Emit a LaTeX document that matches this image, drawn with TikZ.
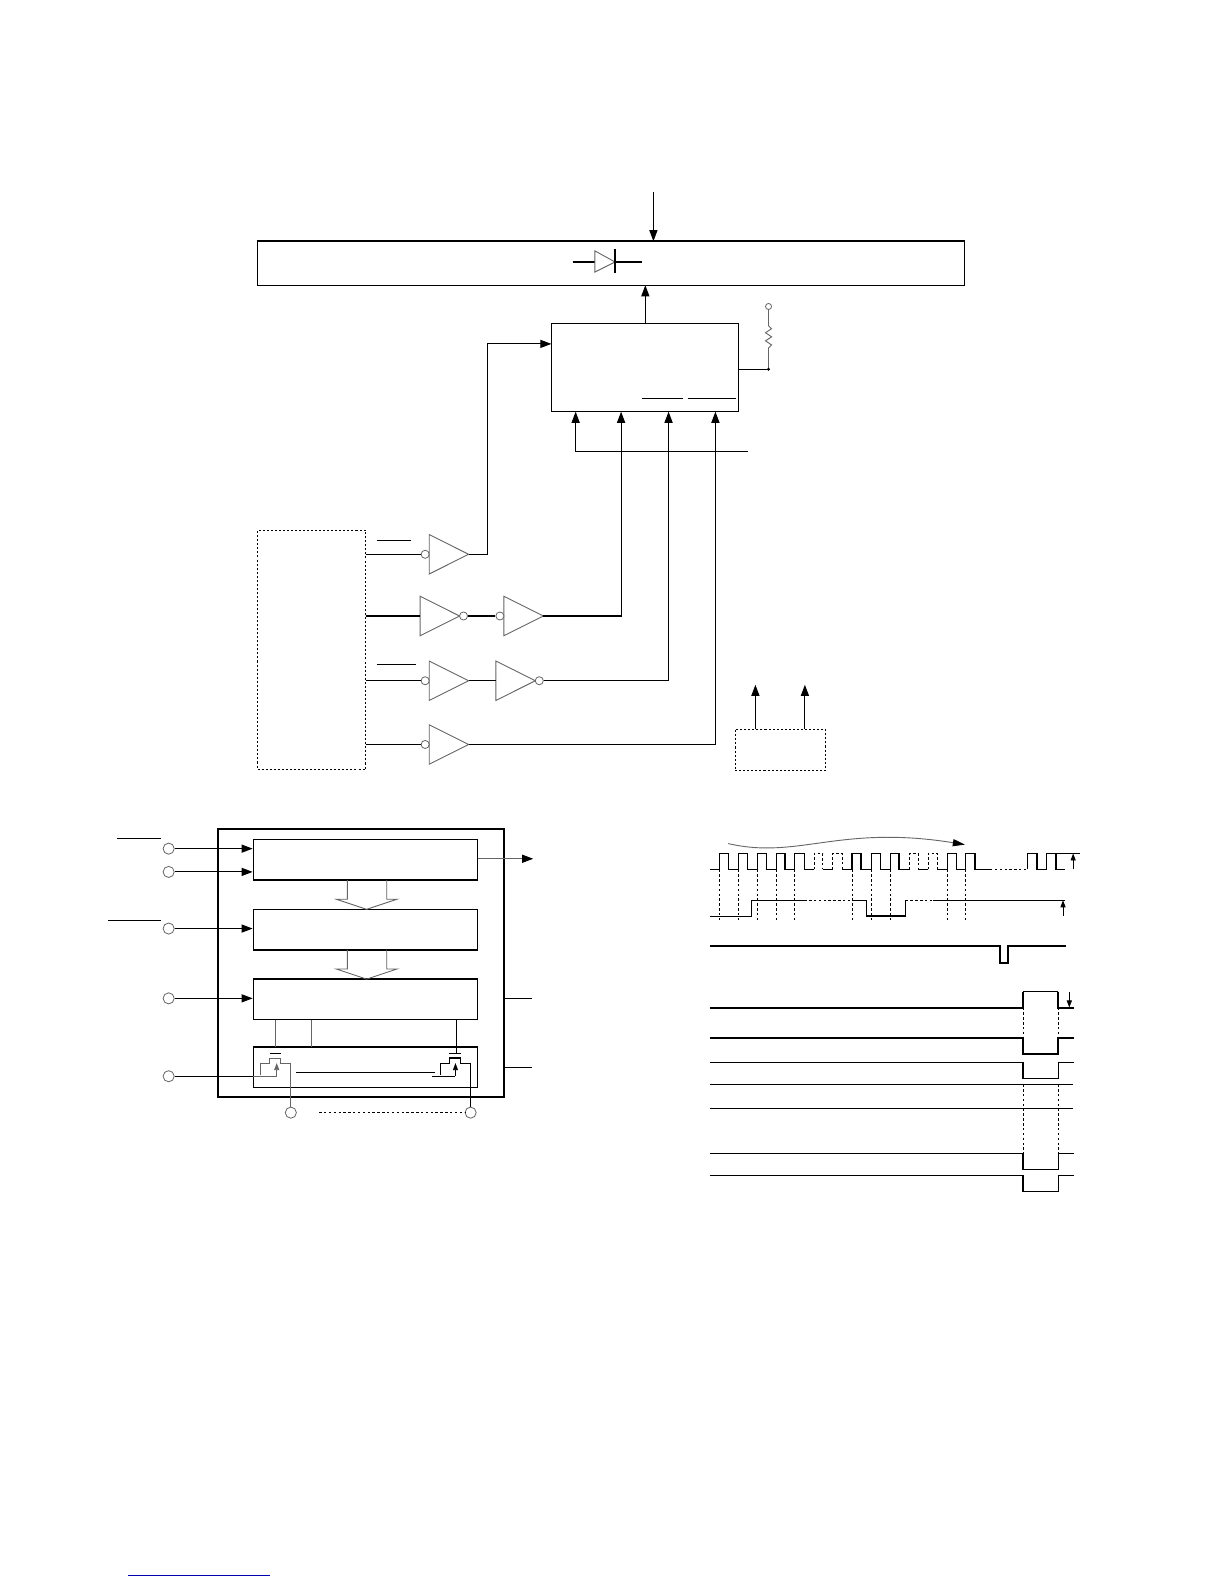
\documentclass[tikz,border=0pt]{standalone}
\usetikzlibrary{arrows.meta}
\tikzset{
  x=0.5pt,y=-0.5008pt,
  wire/.style={line width=0.55pt},
  thinwire/.style={line width=0.45pt,gray!80!black},
  heavy/.style={line width=1.2pt},
  arrowwire/.style={wire,-{Triangle[length=5.5pt,width=4pt]}},
  smallarrow/.style={line width=0.45pt,-{Triangle[length=3.5pt,width=2.5pt]}},
  blockbox/.style={draw,line width=0.8pt,inner sep=0pt,minimum width=111pt,minimum height=20pt},
  dotbox/.style={draw,dash pattern=on 1pt off 1pt,line width=0.45pt,inner sep=0pt},
  bubble/.style={draw,circle,gray!80!black,line width=0.4pt,fill=white,inner sep=0pt,minimum size=4pt},
  pin/.style={draw,circle,gray!80!black,line width=0.4pt,fill=white,inner sep=0pt,minimum size=5.5pt},
  hollowarrow/.style={thinwire},
  timing/.style={line width=0.65pt},
  timingthick/.style={line width=1pt},
  guide/.style={line width=0.45pt,dash pattern=on 1.2pt off 1.2pt},
}
% triangle: tip to the right, height 39 px, length 39 px
\newcommand{\buf}[3]{%
  \draw[thinwire] (#2,#3-19.5)--(#2+39,#3)--(#2,#3+19.5)--cycle;
  \coordinate (#1in) at (#2,#3);
  \coordinate (#1out) at (#2+39,#3);
}
% hollow bus arrow, top at #2, tip at #3
\newcommand{\busarrow}[2]{%
  \draw[hollowarrow] (344,#1)--(344,#2-10)--(333,#2-10)--(363,#2)--(393,#2-10)--(383,#2-10)--(383,#1);
}
\begin{document}
\begin{tikzpicture}
\useasboundingbox[fill=white] (0,0) rectangle (1212,1566);

% top section
\node[draw,wire,inner sep=0pt,minimum width=350pt,minimum height=21.5pt] (array) at (605,260.5) {};
\draw[heavy] (array.north west)--(array.north east);
\coordinate (feed) at (647,190);
\draw[arrowwire] (feed)--(feed|-array.north);
\draw[wire] (567,259)--(589,259) (609,259)--(636,259);
\draw[thinwire] (589,248)--(609,259)--(589,269)--cycle;
\draw[wire] (609,246)--(609,270);

\node[draw,wire,inner sep=0pt,minimum width=92.5pt,minimum height=43.5pt] (ctrl) at (638.5,363.5) {};
\draw[arrowwire] (639,320)--(639,282);
\draw[wire] (636,394)--(676,394) (681,394)--(729,394);
% pull-up
\node[bubble,minimum size=3pt] (vcc) at (761,303) {};
\coordinate (rtie) at (761,365);
\draw[thinwire] (vcc)--(761,322)--(764,325)--(758,329)--(764,333)--(758,337)--(764,341)--(761,344)--(rtie);
\draw[wire] (ctrl.east|-rtie)--(rtie);
\fill (rtie) circle(0.8pt);

% dotted source box and buffers
\node[dotbox,minimum width=53.5pt,minimum height=118.5pt] (src) at (308.5,642.5) {};
\buf{a}{425}{548}
\buf{b}{416}{609}
\buf{c}{499}{609}
\buf{d}{425}{673}
\buf{e}{491}{673}
\buf{f}{425}{736}
\node[bubble] (ba) at (421,548) {};
\node[bubble] (bb) at (459,609) {};
\node[bubble] (bc) at (495,609) {};
\node[bubble] (bd) at (421,673) {};
\node[bubble] (be) at (534,673) {};
\node[bubble] (bf) at (421,736) {};
\draw[wire] (362,548)--(ba);
\draw[wire] (362,609)--(bin);
\draw[wire] (bb)--(bc);
\draw[wire] (362,673)--(bd);
\draw[wire] (dout)--(ein);
\draw[wire] (362,736)--(bf);
\draw[wire] (373,534)--(407,534) (373,657)--(412,657);
\draw[arrowwire] (aout)--(483,548)--(483,340)--(546,340);
\draw[arrowwire] (cout)--(615,609)--(615,407);
\draw[arrowwire] (be)--(662,673)--(662,407);
\draw[arrowwire] (fout)--(708.4,736)--(708.4,407);
\draw[arrowwire] (741,446)--(570,446)--(570,407);

\node[dotbox,minimum width=44.5pt,minimum height=20.5pt] (small) at (772.5,741.5) {};
\draw[arrowwire] (748,721)--(748,677);
\draw[arrowwire] (797,721)--(797,677);

% shift register block
\draw[line width=1pt] (216,1085)--(216,820)--(499,820)--(499,1085)--cycle;
\node[blockbox] (shift) at (362,850) {};
\node[blockbox] (latch) at (362,919) {};
\node[blockbox] (gate) at (362,988) {};
\node[blockbox] (out) at (362,1055) {};
\node[pin] (p1) at (167,839) {};
\node[pin] (p2) at (167,862) {};
\node[pin] (p3) at (167,918) {};
\node[pin] (p4) at (167,987) {};
\node[pin] (p5) at (167,1064) {};
\node[pin] (p6) at (288,1100) {};
\node[pin] (p7) at (466,1100) {};
\draw[arrowwire] (p1)--(p1-|shift.west);
\draw[arrowwire] (p2)--(p2-|shift.west);
\draw[arrowwire] (p3)--(p3-|latch.west);
\draw[arrowwire] (p4)--(p4-|gate.west);
\draw[wire] (116,829)--(159,829) (107,910)--(159,910);
\draw[thinwire,-{Triangle[length=5.5pt,width=4pt,black]}] (473,849)--(528,849);
\busarrow{870}{899}
\busarrow{939}{968}
\draw[wire] (499,987)--(527,987) (499,1055)--(527,1055);
\draw[thinwire] (273,1008)--(273,1035) (308,1008)--(308,1035);
\draw[wire] (452,1008)--(452,1041);
% left transistor
\draw[thinwire,black] (267,1041)--(278,1041);
\draw[thinwire] (p6)--(288,1051)--(278,1051)--(278,1046)--(267,1046)--(267,1051)--(258,1051)--(258,1063);
\draw[wire] (p5)--(p5-|out.west);
\draw[thinwire] (p5-|out.west)--(274,1064);
\draw[smallarrow,thinwire] (274,1064)--(274,1051);
% right transistor
\draw[thinwire,black] (445,1041)--(456,1041);
\draw[wire] (p7)--(466,1051)--(456,1051)--(456,1046)--(445,1046)--(445,1051)--(436,1051)--(436,1063);
\draw[wire] (428,1064)--(451,1064);
\draw[smallarrow] (451,1064)--(451,1051);
\draw[wire] (293,1060)--(431,1060);
\draw[guide] (316,1100)--(p7);

\begin{scope}[x=0.503pt,xshift=-2.109pt]
% timing: clock
\draw[thinwire,-{Triangle[length=6pt,width=3.5pt,black]}] (721,834) .. controls (790,850) and (830,815) .. (954,835);
\draw[timing] (703,859.5)--(712.4,859.5)--(712.4,843.7)--(721.3,843.7)--(721.3,859.5)--(730.9,859.5)--(730.9,843.7)--(739.8,843.7)--(739.8,859.5)--(749.6,859.5)--(749.6,843.7)--(758.5,843.7)--(758.5,859.5)--(768.4,859.5)--(768.4,843.7)--(777,843.7)--(777,859.5)--(786.5,859.5)--(786.5,843.7)--(795.8,843.7)--(795.8,859.5)--(805.7,859.5);
\draw[guide] (805.7,859.5)--(805.7,843.7)--(813.9,843.7)--(813.9,859.5);
\draw[timing] (813.9,859.5)--(823.8,859.5);
\draw[guide] (823.8,859.5)--(823.8,843.7)--(833,843.7)--(833,859.5);
\draw[timing] (833,859.5)--(842.9,859.5)--(842.9,843.7)--(851.8,843.7)--(851.8,859.5)--(861.7,859.5)--(861.7,843.7)--(870.6,843.7)--(870.6,859.5)--(880.5,859.5)--(880.5,843.7)--(889,843.7)--(889,859.5)--(899.6,859.5);
\draw[guide] (899.6,859.5)--(899.6,843.7)--(907.8,843.7)--(907.8,859.5);
\draw[timing] (907.8,859.5)--(917.7,859.5);
\draw[guide] (917.7,859.5)--(917.7,843.7)--(926.6,843.7)--(926.6,859.5);
\draw[timing] (926.6,859.5)--(936.5,859.5)--(936.5,843.7)--(945.7,843.7)--(945.7,859.5)--(954.6,859.5)--(954.6,843.7)--(963.8,843.7)--(963.8,859.5)--(978.6,859.5);
\draw[guide] (978.6,860)--(1015,860);
\draw[timing] (1015.6,859.5)--(1015.6,843.7)--(1024.8,843.7)--(1024.8,859.5)--(1034,859.5)--(1034,843.7)--(1043.6,843.7)--(1043.6,859.5)--(1052.8,859.5);
\draw[thinwire,black] (1043.6,843.7)--(1067,843.7);
\draw[smallarrow] (1060.5,859.5)--(1060.5,843.7);
\foreach \xpos in {712.4,730.9,749.6,768.4,786.5,842.9,861.7,880.5,936.5,954.6}
  \draw[guide] (\xpos,859.5)--(\xpos,911);

% timing: data
\draw[thinwire,black] (703,905.6)--(744,905.6);
\draw[timing] (744,905.6)--(744,890)--(795.8,890);
\draw[guide] (795.8,890)--(842.9,890);
\draw[timing] (842.9,890)--(857.4,890)--(857.4,905.6)--(895.6,905.6)--(895.6,890);
\draw[guide] (895.6,890)--(922.6,890);
\draw[wire] (922.6,890)--(1052.8,890);
\draw[smallarrow] (1050.5,905.6)--(1050.5,890);

% timing: latch pulse
\draw[timingthick] (703,935.3)--(988.5,935.3)--(988.5,952)--(996.8,952)--(996.8,935.3)--(1053.5,935.3);

% timing: outputs
\draw[timingthick] (703,996.1)--(1011,996.1)--(1011,980.3);
\draw[wire] (1011,980.3)--(1045.9,980.3);
\draw[timingthick] (1045.9,980.3)--(1045.9,996.1)--(1061.7,996.1);
\draw[smallarrow] (1056.7,980.3)--(1056.7,996.1);
\draw[timingthick] (703,1025.8)--(1011,1025.8)--(1011,1041.9)--(1045.9,1041.9)--(1045.9,1025.8)--(1061.7,1025.8);
\draw[wire] (703,1050)--(1011,1050);
\draw[timing] (1011,1050)--(1011,1066)--(1045.9,1066)--(1045.9,1050);
\draw[wire] (1045.9,1050)--(1061.7,1050);
\draw[wire] (703,1072)--(1060,1072) (703,1095.6)--(1060,1095.6);
\draw[wire] (703,1140)--(1011,1140);
\draw[timing] (1011,1140)--(1011,1156)--(1045.9,1156)--(1045.9,1140);
\draw[wire] (1045.9,1140)--(1061.7,1140);
\draw[wire] (703,1161.9)--(1011,1161.9);
\draw[timing] (1011,1161.9)--(1011,1178)--(1045.9,1178)--(1045.9,1161.9);
\draw[wire] (1045.9,1161.9)--(1061.7,1161.9);
\foreach \xpos in {1011.6,1046}
  \draw[guide,line width=0.35pt] (\xpos,996.1)--(\xpos,1025.8) (\xpos,1072)--(\xpos,1140);
\end{scope}

% link rule at the foot
\draw[blue!70!black,line width=0.45pt] (127,1558)--(267,1558);
\end{tikzpicture}
\end{document}
